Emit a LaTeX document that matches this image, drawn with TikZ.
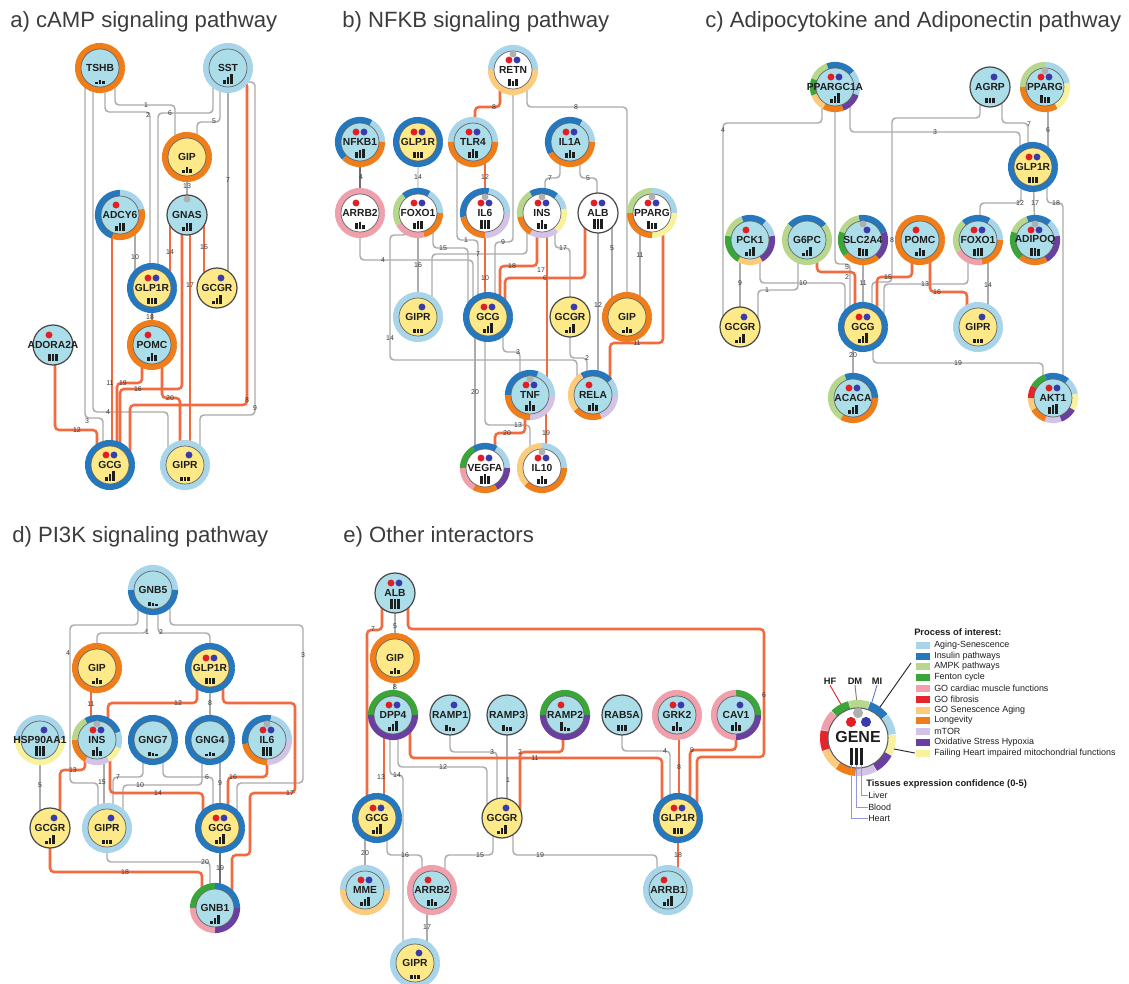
\documentclass[tikz,border=0pt]{standalone}
\usepackage{fontspec}
\setmainfont{Liberation Sans}
\usetikzlibrary{calc}
\pgfdeclarelayer{bg}
\pgfsetlayers{bg,main}

% process-of-interest colours
\definecolor{lb}{RGB}{168,213,234}
\definecolor{ins}{RGB}{38,120,190}
\definecolor{ampk}{RGB}{183,216,140}
\definecolor{fen}{RGB}{58,165,56}
\definecolor{card}{RGB}{240,160,172}
\definecolor{fib}{RGB}{228,38,44}
\definecolor{sen}{RGB}{252,203,124}
\definecolor{lon}{RGB}{239,125,26}
\definecolor{mtor}{RGB}{211,195,230}
\definecolor{oxi}{RGB}{107,63,160}
\definecolor{fh}{RGB}{248,242,159}
% node and connector colours
\definecolor{fillB}{RGB}{172,222,233}
\definecolor{fillY}{RGB}{253,233,135}
\definecolor{inbd}{RGB}{95,95,95}
\definecolor{plbd}{RGB}{70,70,70}
\definecolor{edgeG}{RGB}{172,172,172}
\definecolor{edgeD}{RGB}{110,110,110}
\definecolor{edgeO}{RGB}{242,106,64}
\definecolor{dotR}{RGB}{226,30,36}
\definecolor{dotB}{RGB}{58,58,170}
\definecolor{dotG}{RGB}{175,175,175}
\definecolor{txt}{RGB}{30,30,30}
\definecolor{labc}{RGB}{55,55,55}
\definecolor{barc}{RGB}{30,30,30}
\definecolor{ttlc}{RGB}{60,60,60}
\definecolor{lav}{RGB}{150,150,220}

\tikzset{
  glab/.style={circle,inner sep=0pt,minimum size=37pt,font=\bfseries\fontsize{7.7}{8}\selectfont,text=txt},
  gline/.style={draw=edgeG,line width=1.1pt,rounded corners=3pt},
  dline/.style={draw=edgeD,line width=1.1pt,rounded corners=3pt},
  oline/.style={draw=edgeO,line width=1.9pt,rounded corners=3pt},
  elab/.style={font=\fontsize{5.2}{5.5}\selectfont,text=labc,inner sep=0.3pt},
  ttl/.style={anchor=base west,font=\fontsize{16.6}{19}\selectfont,text=ttlc,inner sep=0pt},
  lbox/.style={rectangle,minimum width=11.25pt,minimum height=6pt,inner sep=0pt,draw=white,line width=0.3pt},
  ltxt/.style={anchor=west,inner sep=0pt,font=\fontsize{6.7}{7}\selectfont,text=txt},
  lbold/.style={anchor=west,inner sep=0pt,font=\bfseries\fontsize{7}{8}\selectfont,text=txt},
}

% one coloured arc of a gene ring (angles clockwise from east)
\newcommand\ringseg[5]{\draw[line width=4.6pt,draw=#5] plot[domain=#3:#4,samples=30,variable=\ang] ({#1+22*cos(\ang)},{#2+22*sin(\ang)});}
% dots: heart failure, diabetes, myocardial infarction
\newcommand\gdotR[2]{\fill[dotR] (#1-4,#2-10) circle[radius=2.6pt];}
\newcommand\gdotB[2]{\fill[dotB] (#1+4,#2-10) circle[radius=2.6pt];}
\newcommand\gdotG[2]{\fill[dotG] (#1,#2-16) circle[radius=2.6pt];}
\newcommand\gdotN[2]{}
% tissue expression bars
\newcommand\gbars[5]{%
  \fill[barc] (#1-4.6,#2+16) rectangle ++(2.3,-#3);
  \fill[barc] (#1-1.15,#2+16) rectangle ++(2.3,-#4);
  \fill[barc] (#1+2.3,#2+16) rectangle ++(2.3,-#5);}
% inner disc, dots, bars and the named label node
\newcommand\gcore[9]{%
  \filldraw[fill=#5,#9] (#2,#3) circle[radius=#8];
  \gbars{#2}{#3}#7%
  \foreach \dd in {#6}{\csname gdot\dd\endcsname{#2}{#3}}%
  \node[glab] (#1) at (#2,#3) {#4};}
% gene with a ring: name x y label fill ring dots bars
\newcommand\gene[8]{%
  \foreach \ra/\rb/\rc in {#6}{\ringseg{#2}{#3}{\ra}{\rb}{\rc}}%
  \gcore{#1}{#2}{#3}{#4}{#5}{#7}{#8}{14.25pt}{draw=inbd,line width=0.5pt}}
% gene without ring: name x y label fill dots bars
\newcommand\pgene[7]{%
  \gcore{#1}{#2}{#3}{#4}{#5}{#6}{#7}{15pt}{draw=plbd,line width=0.9pt}}
% numbered connector labels
\newcounter{elc}
\newcommand\edlab[3]{\stepcounter{elc}\node[elab] (el\arabic{elc}) at (#1,#2) {#3};}

\begin{document}
\begin{tikzpicture}[x=0.75pt,y=-0.75pt]
\useasboundingbox (0,0) rectangle (1129,984);

% ---------- titles ----------
\node[ttl] (tA) at (10,28) {a) cAMP signaling pathway};
\node[ttl] (tB) at (342,28) {b) NFKB signaling pathway};
\node[ttl] (tC) at (705,28) {c) Adipocytokine and Adiponectin pathway};
\node[ttl] (tD) at (12,542) {d) PI3K signaling pathway};
\node[ttl] (tE) at (343,542) {e) Other interactors};

% ---------- a) cAMP ----------
\gene{aTSHB}{100}{68}{TSHB}{fillB}{0/360/lon}{N}{{2}{4}{3}}
\gene{aSST}{228}{68}{SST}{fillB}{0/360/lb}{N}{{4}{7}{10}}
\gene{aGIP}{187}{157}{GIP}{fillY}{0/360/lon}{N}{{3}{6}{4}}
\gene{aADCY6}{120}{215}{ADCY6}{fillB}{110/270/ins,270/345/lb,345/470/lon}{R}{{5}{8}{8}}
\pgene{aGNAS}{187}{215}{GNAS}{fillB}{G}{{4}{8}{8}}
\gene{aGLP1R}{152}{288}{GLP1R}{fillY}{0/360/ins}{R,B}{{6}{6}{6}}
\pgene{aGCGR}{217}{288}{GCGR}{fillY}{B}{{3}{6}{9}}
\pgene{aADORA2A}{53}{345}{ADORA2A}{fillB}{R}{{7}{7}{7}}
\gene{aPOMC}{152}{345}{POMC}{fillB}{0/360/lon}{R}{{4}{8}{6}}
\gene{aGCG}{110}{465}{GCG}{fillY}{0/360/ins}{R,B}{{4}{7}{10}}
\gene{aGIPR}{185}{465}{GIPR}{fillY}{0/360/lb}{B}{{4}{4}{4}}

% ---------- b) NFKB ----------
\gene{bRETN}{513}{70}{RETN}{white}{180/360/lb,0/180/sen}{G,R,B}{{7}{5}{7}}
\gene{bNFKB1}{360}{142}{NFKB1}{fillB}{135/300/ins,300/360/lb,0/135/lon}{R,B}{{6}{8}{9}}
\gene{bGLP1R}{418}{142}{GLP1R}{fillY}{0/360/ins}{R,B}{{6}{6}{6}}
\gene{bTLR4}{473}{142}{TLR4}{fillB}{180/360/lb,0/180/lon}{R,B}{{6}{9}{7}}
\gene{bIL1A}{570}{142}{IL1A}{fillB}{150/300/ins,300/360/lb,0/150/lon}{R,B}{{5}{8}{6}}
\gene{bARRB2}{360}{213}{ARRB2}{white}{0/360/card}{R}{{6}{7}{4}}
\gene{bFOXO1}{418}{213}{FOXO1}{white}{230/300/ins,300/360/lb,0/75/lon,75/150/card,150/230/ampk}{R,B}{{6}{8}{8}}
\gene{bIL6}{485}{213}{IL6}{white}{170/280/ins,280/360/lb,0/90/mtor,90/170/lon}{G,R,B}{{9}{9}{9}}
\gene{bINS}{542}{213}{INS}{white}{170/240/ampk,240/310/ins,310/350/lb,350/410/fh,50/120/mtor,120/170/lon}{G,R,B}{{6}{9}{5}}
\pgene{bALB}{598}{213}{ALB}{white}{R,B}{{10}{10}{10}}
\gene{bPPARG}{652}{213}{PPARG}{white}{180/270/ampk,270/360/lb,0/90/fh,90/180/lon}{G,R,B}{{8}{6}{6}}
\gene{bGIPR}{418}{317}{GIPR}{fillY}{0/360/lb}{B}{{4}{4}{4}}
\gene{bGCG}{488}{317}{GCG}{fillY}{0/360/ins}{R,B}{{4}{7}{10}}
\pgene{bGCGR}{570}{317}{GCGR}{fillY}{B}{{3}{6}{9}}
\gene{bGIP}{627}{317}{GIP}{fillY}{0/360/lon}{N}{{3}{6}{4}}
\gene{bTNF}{530}{395}{TNF}{fillB}{180/290/ins,290/360/lb,0/90/mtor,90/180/lon}{G,R,B}{{6}{10}{6}}
\gene{bRELA}{593}{395}{RELA}{fillB}{240/320/ins,320/360/lb,0/70/mtor,70/140/lon,140/240/sen}{R}{{6}{8}{6}}
\gene{bVEGFA}{485}{468}{VEGFA}{white}{180/240/fen,240/300/ins,300/360/lb,0/60/oxi,60/120/lon,120/180/card}{R,B}{{8}{10}{8}}
\gene{bIL10}{542}{468}{IL10}{white}{270/360/lb,0/135/lon,135/270/sen}{G,R,B}{{5}{8}{5}}

% ---------- c) Adipocytokine ----------
\gene{cPPARGC1A}{835}{87}{PPARGC1A}{fillB}{200/250/ampk,250/320/ins,320/380/lb,20/70/oxi,70/120/lon,120/160/sen,160/200/fen}{R,B}{{4}{7}{10}}
\pgene{cAGRP}{990}{87}{AGRP}{fillB}{B}{{5}{5}{5}}
\gene{cPPARG}{1045}{87}{PPARG}{fillB}{180/270/ampk,270/350/lb,350/420/fh,60/180/lon}{G,R,B}{{8}{6}{6}}
\gene{cGLP1R}{1033}{167}{GLP1R}{fillY}{0/360/ins}{R,B}{{6}{6}{6}}
\gene{cPCK1}{750}{240}{PCK1}{fillB}{190/250/ampk,250/310/ins,310/350/lb,350/420/oxi,60/120/sen,120/190/fen}{R}{{4}{7}{9}}
\gene{cG6PC}{807}{240}{G6PC}{fillB}{220/320/ins,320/580/ampk}{N}{{3}{6}{9}}
\gene{cSLC2A4}{863}{240}{SLC2A4}{fillB}{200/260/ampk,260/340/ins,340/410/oxi,50/140/lon,140/200/fen}{G,B}{{8}{7}{7}}
\gene{cPOMC}{920}{240}{POMC}{fillB}{0/360/lon}{R}{{4}{8}{6}}
\gene{cFOXO1}{978}{240}{FOXO1}{fillB}{230/300/ins,300/360/lb,0/80/lon,80/150/card,150/230/ampk}{R,B}{{7}{8}{8}}
\gene{cADIPOQ}{1035}{240}{ADIPOQ}{fillB}{200/250/ampk,250/310/ins,310/350/lb,350/420/oxi,60/130/lon,130/200/fen}{G,R,B}{{8}{8}{7}}
\pgene{cGCGR}{740}{327}{GCGR}{fillY}{B}{{3}{6}{9}}
\gene{cGCG}{863}{327}{GCG}{fillY}{0/360/ins}{R,B}{{4}{7}{10}}
\gene{cGIPR}{978}{327}{GIPR}{fillY}{0/360/lb}{B}{{4}{4}{4}}
\gene{cACACA}{853}{398}{ACACA}{fillB}{120/250/ampk,250/360/ins,0/120/lon}{R,B}{{4}{7}{9}}
\gene{cAKT1}{1053}{398}{AKT1}{fillB}{210/250/fen,250/310/ins,310/350/lb,350/390/fh,30/70/oxi,70/110/mtor,110/150/lon,150/180/sen,180/210/fib}{R,B}{{7}{9}{10}}

% ---------- d) PI3K ----------
\gene{dGNB5}{153}{590}{GNB5}{fillB}{180/360/lb,0/180/ins}{N}{{4}{3}{2}}
\gene{dGIP}{97}{668}{GIP}{fillY}{0/360/lon}{N}{{3}{6}{4}}
\gene{dGLP1R}{210}{668}{GLP1R}{fillY}{0/360/ins}{R,B}{{6}{6}{6}}
\gene{dHSP90AA1}{40}{740}{HSP90AA1}{fillB}{180/360/lb,0/180/fh}{B}{{10}{10}{10}}
\gene{dINS}{97}{740}{INS}{fillB}{180/240/ampk,240/340/ins,340/380/lb,20/60/fh,60/120/mtor,120/180/lon}{G,R,B}{{6}{9}{5}}
\gene{dGNG7}{153}{740}{GNG7}{fillB}{0/360/ins}{N}{{4}{3}{2}}
\gene{dGNG4}{210}{740}{GNG4}{fillB}{0/360/ins}{N}{{2}{4}{3}}
\gene{dIL6}{267}{740}{IL6}{fillB}{170/280/ins,280/360/lb,0/90/mtor,90/170/lon}{G,R,B}{{9}{9}{9}}
\pgene{dGCGR}{50}{828}{GCGR}{fillY}{B}{{3}{6}{9}}
\gene{dGIPR}{107}{828}{GIPR}{fillY}{0/360/lb}{B}{{4}{4}{4}}
\gene{dGCG}{220}{828}{GCG}{fillY}{0/360/ins}{R,B}{{4}{7}{10}}
\gene{dGNB1}{215}{908}{GNB1}{fillB}{180/270/fen,270/360/ins,0/90/oxi,90/180/card}{N}{{3}{6}{9}}

% ---------- e) other interactors ----------
\pgene{eALB}{395}{593}{ALB}{fillB}{R,B}{{10}{10}{10}}
\gene{eGIP}{395}{658}{GIP}{fillY}{0/360/lon}{N}{{3}{6}{4}}
\gene{eDPP4}{393}{715}{DPP4}{fillB}{180/360/fen,0/180/oxi}{R,B}{{4}{7}{10}}
\pgene{eRAMP1}{450}{715}{RAMP1}{fillB}{B}{{6}{4}{3}}
\pgene{eRAMP3}{507}{715}{RAMP3}{fillB}{N}{{6}{4}{4}}
\gene{eRAMP2}{565}{715}{RAMP2}{fillB}{180/360/fen,0/180/oxi}{R}{{9}{4}{3}}
\pgene{eRAB5A}{622}{715}{RAB5A}{fillB}{N}{{6}{6}{6}}
\gene{eGRK2}{677}{715}{GRK2}{fillB}{0/360/card}{R,B}{{5}{9}{4}}
\gene{eCAV1}{736}{715}{CAV1}{fillB}{270/360/fen,0/90/oxi,90/270/card}{B}{{6}{9}{6}}
\gene{eGCG}{377}{818}{GCG}{fillY}{0/360/ins}{R,B}{{4}{7}{10}}
\pgene{eGCGR}{502}{818}{GCGR}{fillY}{B}{{3}{6}{9}}
\gene{eGLP1R}{678}{818}{GLP1R}{fillY}{0/360/ins}{R,B}{{6}{6}{6}}
\gene{eMME}{365}{890}{MME}{fillB}{180/360/lb,0/180/sen}{R,B}{{4}{7}{9}}
\gene{eARRB2}{432}{890}{ARRB2}{fillB}{0/360/card}{R}{{6}{7}{4}}
\gene{eARRB1}{668}{890}{ARRB1}{fillB}{0/360/lb}{R}{{4}{7}{10}}
\gene{eGIPR}{415}{963}{GIPR}{fillY}{0/360/lb}{B}{{4}{4}{4}}

% ---------- legend ----------
\coordinate (ldR) at (851,722);
\coordinate (ldG) at (858,713);
\coordinate (ldB) at (866,722);
\node[font=\bfseries\fontsize{7}{8}\selectfont,text=txt,inner sep=0.5pt] (lHF) at (830,681) {HF};
\node[font=\bfseries\fontsize{7}{8}\selectfont,text=txt,inner sep=0.5pt] (lDM) at (855,681) {DM};
\node[font=\bfseries\fontsize{7}{8}\selectfont,text=txt,inner sep=0.5pt] (lMI) at (877,681) {MI};
\draw[fib,line width=0.7pt] (lHF.south) -- (ldR);
\draw[gray,line width=0.7pt] (lDM.south) -- (ldG);
\draw[dotB!70!white,line width=0.7pt] (lMI.south) -- (ldB);
\foreach \ra/\rb/\rc in {256/288/ampk,289/321/ins,322/354/lb,355/387/fh,28/60/oxi,61/93/mtor,94/126/lon,127/159/sen,160/192/fib,193/225/card,226/255/fen}
  {\draw[line width=6pt,draw=\rc] plot[domain=\ra:\rb,samples=14,variable=\ang] ({858+34*cos(\ang)},{738+34*sin(\ang)});}
\filldraw[fill=white,draw=inbd,line width=0.8pt] (858,738) circle[radius=22.5pt];
\fill[dotG] (ldG) circle[radius=3.8pt];
\fill[dotR] (ldR) circle[radius=3.8pt];
\fill[dotB] (ldB) circle[radius=3.8pt];
\node[font=\bfseries\fontsize{12}{14}\selectfont,text=txt,inner sep=0pt] (lgGene) at (858,737) {GENE};
\fill[barc] (849.5,765) rectangle (852.5,748);
\fill[barc] (854.5,765) rectangle (857.5,748);
\fill[barc] (860,765) rectangle (863,748);

\node[lbold] (lProc) at (914,632) {Process of interest:};
\foreach \yy/\cc/\tx [count=\n] in {645/lb/Aging-Senescence,655.8/ins/Insulin pathways,666.6/ampk/AMPK pathways,677.4/fen/Fenton cycle,688.2/card/GO cardiac muscle functions,699/fib/GO fibrosis,709.8/sen/GO Senescence Aging,720.6/lon/Longevity,731.4/mtor/mTOR,742.2/oxi/Oxidative Stress Hypoxia,753/fh/Failing Heart impaired mitochondrial functions}
  {\node[lbox,fill=\cc] (lbx\n) at (922.5,\yy) {};
   \node[ltxt] (ltx\n) at (934,\yy) {\tx};}
\coordinate (lrA) at (880,707);
\coordinate (lrB) at (894,749);
\draw[black!85,line width=0.7pt] (lrA) -- (911,663);
\draw[black!85,line width=0.7pt] (lrB) -- (lbx11.west);

\node[lbold] (lTis) at (866,784) {Tissues expression confidence (0-5)};
\node[ltxt] (lLiver) at (868,795.5) {Liver};
\node[ltxt] (lBlood) at (868,807) {Blood};
\node[ltxt] (lHeart) at (868,818.5) {Heart};
\draw[lav,line width=0.6pt] (861.5,765) |- (lLiver.west);
\draw[lav,line width=0.6pt] (856,765) |- (lBlood.west);
\draw[lav,line width=0.6pt] (851,765) |- (lHeart.west);

% ================= connectors =================
\begin{pgfonlayer}{bg}
\fill[white] (0,0) rectangle (1129,984);

% ---- a) ----
\draw[gline] (aTSHB.center) ++(15,0) |- (175,105) -- (aGIP.center -| 175,0);
\draw[gline] (aTSHB.center) ++(5,0) |- (150,112) -- (aGLP1R.center -| 150,0);
\draw[gline] (aSST.center) ++(-15,0) |- (158,113) -- (aGLP1R.center -| 158,0);
\draw[gline] (aSST.center) ++(-8,0) |- (197,122) -- (aGIP.center -| 197,0);
\draw[gline] (aSST.center) -- (aGCGR.center -| 228,0);
\draw[gline] (aSST.center) ++(17,0) -- ++(0,14) -| (255,415) -| (aGIPR.center -| 200,0);
\draw[gline] (aTSHB.center) ++(-15,0) |- (103,418) -- (aGCG.center -| 103,0);
\draw[gline] (aTSHB.center) ++(-7,0) |- (168,412) -- (aGIPR.center -| 168,0);
\draw[gline] (aADCY6.center) ++(15,0) -- (aGLP1R.center -| 135,0);
\draw[gline] (aGIP.center) -- (aGNAS.center);
\draw[oline] (aSST.center) ++(9,0) -- ++(0,14) -| (247,405) -| (aGCG.center -| 130,0);
\draw[oline] (aADCY6.center) ++(-8,0) -- (aGCG.center -| 112,0);
\draw[oline] (aADORA2A.center) ++(2,0) |- (97,430) -- (aGCG.center -| 97,0);
\draw[oline] (aGNAS.center) ++(-17,0) -- (aGLP1R.center -| 170,0);
\draw[oline] (aGNAS.center) ++(17,0) -- (aGCGR.center -| 204,0);
\draw[oline] (aGNAS.center) ++(-5,0) |- (120,389) -- (aGCG.center -| 120,0);
\draw[oline] (aGNAS.center) ++(3,0) -- (aGIPR.center -| 190,0);
\draw[oline] (aGLP1R.center) -- (aPOMC.center);
\draw[oline] (aPOMC.center) ++(-10,0) |- (117,383) -- (aGCG.center -| 117,0);
\draw[oline] (aPOMC.center) ++(10,0) |- (180,398) -- (aGIPR.center -| 180,0);
\edlab{146}{105}{1} \edlab{148}{115}{2} \edlab{87}{421}{3} \edlab{108}{412}{4}
\edlab{214}{121}{5} \edlab{170}{113}{6} \edlab{228}{180}{7} \edlab{247}{400}{8}
\edlab{255}{408}{9} \edlab{135}{257}{10} \edlab{110}{383}{11} \edlab{77}{430}{12}
\edlab{187}{186}{13} \edlab{170}{252}{14} \edlab{204}{247}{15} \edlab{138}{389}{16}
\edlab{190}{285}{17} \edlab{150}{317}{18} \edlab{123}{383}{19} \edlab{170}{398}{20}

% ---- b) ----
\draw[gline] (bRETN.center) ++(14,0) |- (627,107) -- (bGIP.center);
\draw[gline] (bRETN.center) |- (495,242) -- (bGCG.center -| 495,0);
\draw[dline] (bNFKB1.center) -- (bARRB2.center);
\draw[gline,draw=edgeG!45] (bGLP1R.center) -- (bFOXO1.center);
\draw[gline] (bTLR4.center) ++(-16,0) |- (478,240) -- (bGCG.center -| 478,0);
\draw[gline] (bIL1A.center) ++(-10,0) |- (545,178) -- (bINS.center -| 545,0);
\draw[gline] (bIL1A.center) ++(10,0) |- (597,178) -- (bALB.center -| 597,0);
\draw[gline] (bARRB2.center) |- (473,260) -- (bGCG.center -| 473,0);
\draw[gline] (bINS.center) ++(-15,0) |- (432,254) -- (bGIPR.center -| 432,0);
\draw[gline] (bFOXO1.center) ++(15,0) |- (468,248) -- (bGCG.center -| 468,0);
\draw[gline] (bFOXO1.center) -- (bGIPR.center);
\draw[gline] (bFOXO1.center) ++(-11,0) -- ++(0,22) -| (390,360) -| (bRELA.center -| 577,0);
\draw[gline] (bINS.center) ++(13,0) |- (570,248) -- (bGCGR.center);
\draw[gline] (bALB.center) ++(14,0) -- (bGIP.center -| 612,0);
\draw[gline] (bALB.center) -- (bRELA.center -| 598,0);
\draw[gline] (bPPARG.center) ++(-12,0) -- (bGIP.center -| 640,0);
\draw[gline] (bGCGR.center) |- (587,358) -- (bRELA.center -| 587,0);
\draw[gline] (bGCG.center) ++(15,0) |- (520,352) -- (bTNF.center -| 520,0);
\draw[gline] (bGCG.center) ++(-13,0) -- (bVEGFA.center -| 475,0);
\draw[gline] (bGCG.center) ++(-3,0) |- (530,425) -- (bIL10.center -| 530,0);
\draw[oline] (bRETN.center) ++(-13,0) |- (475,107) -- (bTLR4.center -| 475,0);
\draw[oline] (bTLR4.center) ++(12,0) -- (bIL6.center);
\draw[oline] (bIL6.center) -- (bGCG.center -| 485,0);
\draw[oline] (bINS.center) ++(-5,0) |- (500,266) -- (bGCG.center -| 500,0);
\draw[oline] (bALB.center) ++(-13,0) |- (505,278) -- (bGCG.center -| 505,0);
\draw[oline] (bINS.center) ++(5,0) -- (bTNF.center -| 547,0);
\draw[oline] (bPPARG.center) ++(11,0) |- (610,343) -- (bRELA.center -| 610,0);
\draw[oline] (bTNF.center) ++(-5,0) |- (495,433) -- (bVEGFA.center -| 495,0);
\draw[oline] (bTNF.center) ++(16,0) -- (bIL10.center -| 546,0);
\edlab{494}{107}{8} \edlab{576}{107}{8} \edlab{503}{242}{9} \edlab{361}{177}{4}
\edlab{418}{177}{14} \edlab{485}{177}{12} \edlab{550}{178}{7} \edlab{588}{178}{5}
\edlab{466}{240}{1} \edlab{383}{260}{4} \edlab{478}{254}{7} \edlab{443}{248}{15}
\edlab{418}{265}{16} \edlab{390}{338}{14} \edlab{485}{278}{10} \edlab{512}{266}{18}
\edlab{545}{278}{6} \edlab{541}{270}{17} \edlab{563}{248}{17} \edlab{612}{248}{5}
\edlab{598}{305}{12} \edlab{640}{255}{11} \edlab{637}{343}{11} \edlab{587}{358}{2}
\edlab{518}{352}{3} \edlab{475}{392}{20} \edlab{518}{425}{13} \edlab{507}{433}{20}
\edlab{546}{433}{19}

% ---- c) ----
\draw[gline] (cPPARGC1A.center) ++(15,0) |- (1020,132) -- (cGLP1R.center -| 1020,0);
\draw[gline] (cPPARGC1A.center) ++(-13,0) |- (723,123) -- (cGCGR.center -| 723,0);
\draw[gline] (cPPARGC1A.center) |- (850,264) -- (cGCG.center -| 850,0);
\draw[gline] (cAGRP.center) ++(-10,0) |- (892,118) |- (872,282) -- (cGCG.center -| 872,0);
\draw[gline] (cAGRP.center) ++(12,0) |- (1028,123) -- (cGLP1R.center -| 1028,0);
\draw[gline] (cPPARG.center) ++(3,0) -- (cGLP1R.center -| 1048,0);
\draw[gline] (cPCK1.center) ++(-10,0) -- (cGCGR.center -| 740,0);
\draw[gline] (cG6PC.center) ++(-9,0) |- (758,290) -- (cGCGR.center -| 758,0);
\draw[gline] (cPCK1.center) ++(10,0) |- (845,283) -- (cGCG.center -| 845,0);
\draw[gline] (cSLC2A4.center) -- (cGCG.center);
\draw[gline] (cFOXO1.center) ++(-10,0) |- (884,284) -- (cGCG.center -| 884,0);
\draw[gline] (cFOXO1.center) ++(10,0) -- (cGIPR.center -| 988,0);
\draw[gline] (cGLP1R.center) ++(-12,0) |- (980,203) -- (cFOXO1.center -| 980,0);
\draw[gline] (cGLP1R.center) -- (cADIPOQ.center);
\draw[gline] (cGLP1R.center) ++(14,0) |- (1063,203) -- (cAKT1.center -| 1063,0);
\draw[gline] (cGCG.center) ++(10,0) |- (1043,363) -- (cAKT1.center -| 1043,0);
\draw[gline] (cGCG.center) ++(-10,0) -- (cACACA.center);
\draw[oline] (cG6PC.center) ++(10,0) |- (855,272) -- (cGCG.center -| 855,0);
\draw[oline] (cPOMC.center) ++(-8,0) |- (877,277) -- (cGCG.center -| 877,0);
\draw[oline] (cPOMC.center) ++(10,0) |- (967,292) -- (cGIPR.center -| 967,0);
\edlab{935}{132}{3} \edlab{723}{130}{4} \edlab{847}{267}{5} \edlab{892}{240}{8}
\edlab{1029}{124}{7} \edlab{1048}{130}{6} \edlab{740}{283}{9} \edlab{767}{290}{1}
\edlab{803}{283}{10} \edlab{847}{277}{2} \edlab{863}{283}{11} \edlab{888}{277}{15}
\edlab{925}{284}{13} \edlab{937}{292}{16} \edlab{988}{285}{14} \edlab{1020}{203}{12}
\edlab{1035}{203}{17} \edlab{1056}{203}{18} \edlab{958}{363}{19} \edlab{853}{355}{20}

% ---- d) ----
\draw[gline] (dGNB5.center) ++(-6,0) |- (97,633) -- (dGIP.center);
\draw[gline] (dGNB5.center) ++(5,0) |- (210,633) -- (dGLP1R.center);
\draw[gline] (dGNB5.center) ++(17,0) |- (303,625) |- (237,783) -- (dGCG.center -| 237,0);
\draw[gline] (dGNB5.center) ++(-15,0) |- (70,625) |- (98,783) -- (dGIPR.center -| 98,0);
\draw[gline] (dHSP90AA1.center) -- (dGCGR.center -| 40,0);
\draw[gline] (dGNG7.center) ++(10,0) |- (213,777) -- (dGCG.center -| 213,0);
\draw[gline] (dGNG7.center) ++(-10,0) |- (113,777) -- (dGIPR.center -| 113,0);
\draw[gline] (dGLP1R.center) -- (dGNG4.center);
\draw[gline] (dGNG4.center) ++(10,0) -- (dGCG.center);
\draw[gline] (dGNG4.center) ++(-8,0) |- (123,785) -- (dGIPR.center -| 123,0);
\draw[gline] (dINS.center) ++(7,0) -- (dGIPR.center -| 104,0);
\draw[dline] (dGCG.center) -- (dGNB1.center -| 220,0);
\draw[gline] (dGIPR.center) |- (210,862) -- (dGNB1.center -| 210,0);
\draw[oline] (dGIP.center) ++(-6,0) -- (dINS.center -| 91,0);
\draw[oline] (dGLP1R.center) ++(-13,0) |- (108,703) -- (dINS.center -| 108,0);
\draw[oline] (dINS.center) ++(-12,0) |- (60,770) -- (dGCGR.center -| 60,0);
\draw[oline] (dINS.center) ++(13,0) |- (203,793) -- (dGCG.center -| 203,0);
\draw[oline] (dIL6.center) |- (228,777) -- (dGCG.center -| 228,0);
\draw[oline] (dGLP1R.center) ++(13,0) |- (295,703) |- (250,793) |- (232,855) -- (dGNB1.center -| 232,0);
\draw[oline] (dGCGR.center) |- (202,872) -- (dGNB1.center -| 202,0);
\edlab{147}{632}{1} \edlab{161}{632}{2} \edlab{303}{655}{3} \edlab{68}{653}{4}
\edlab{40}{785}{5} \edlab{207}{777}{6} \edlab{118}{777}{7} \edlab{210}{703}{8}
\edlab{220}{783}{9} \edlab{140}{785}{10} \edlab{91}{704}{11} \edlab{178}{703}{12}
\edlab{73}{770}{13} \edlab{158}{793}{14} \edlab{102}{782}{15} \edlab{233}{777}{16}
\edlab{290}{793}{17} \edlab{125}{872}{18} \edlab{220}{868}{19} \edlab{205}{862}{20}

% ---- e) ----
\draw[gline] (eALB.center) -- (eGIP.center);
\draw[gline] (eGIP.center) -- (eDPP4.center);
\draw[gline] (eRAB5A.center) |- (670,751) -- (eGLP1R.center -| 670,0);
\draw[gline] (eRAMP1.center) |- (497,752) -- (eGCGR.center -| 497,0);
\draw[gline] (eRAMP3.center) -- (eGCGR.center -| 507,0);
\draw[gline] (eDPP4.center) ++(5,0) |- (487,767) -- (eGCGR.center -| 487,0);
\draw[gline] (eDPP4.center) ++(-3,0) |- (403,775) -- (eGIPR.center -| 403,0);
\draw[gline] (eGCGR.center) ++(-9,0) |- (445,855) -- (eARRB2.center -| 445,0);
\draw[gline] (eGCG.center) ++(10,0) |- (422,855) -- (eARRB2.center -| 422,0);
\draw[gline] (eARRB2.center) ++(-5,0) -- (eGIPR.center -| 427,0);
\draw[gline] (eGCGR.center) ++(11,0) |- (657,855) -- (eARRB1.center -| 657,0);
\draw[gline] (eGCG.center) ++(-12,0) -- (eMME.center -| 365,0);
\draw[oline] (eALB.center) ++(-13,0) |- (367,630) -- (eGCG.center -| 367,0);
\draw[oline] (eALB.center) ++(13,0) |- (764,629) |- (697,757) -- (eGLP1R.center -| 697,0);
\draw[oline] (eCAV1.center) |- (690,750) -- (eGLP1R.center -| 690,0);
\draw[oline] (eGRK2.center) ++(2,0) -- (eGLP1R.center -| 679,0);
\draw[oline] (eRAMP2.center) ++(-2,0) |- (520,752) -- (eGCGR.center -| 520,0);
\draw[oline] (eDPP4.center) ++(17,0) |- (662,758) -- (eGLP1R.center -| 662,0);
\draw[oline] (eDPP4.center) ++(-9,0) -- (eGCG.center -| 384,0);
\draw[oline] (eGLP1R.center) -- (eARRB1.center -| 678,0);
\edlab{395}{626}{5} \edlab{373}{629}{7} \edlab{764}{695}{6} \edlab{395}{687}{8}
\edlab{692}{750}{9} \edlab{679}{767}{8} \edlab{665}{751}{4} \edlab{492}{752}{3}
\edlab{508}{780}{1} \edlab{520}{752}{2} \edlab{535}{758}{11} \edlab{443}{767}{12}
\edlab{381}{777}{13} \edlab{397}{775}{14} \edlab{480}{855}{15} \edlab{405}{855}{16}
\edlab{427}{927}{17} \edlab{678}{855}{18} \edlab{540}{855}{19} \edlab{365}{853}{20}
\end{pgfonlayer}
\end{tikzpicture}
\end{document}
